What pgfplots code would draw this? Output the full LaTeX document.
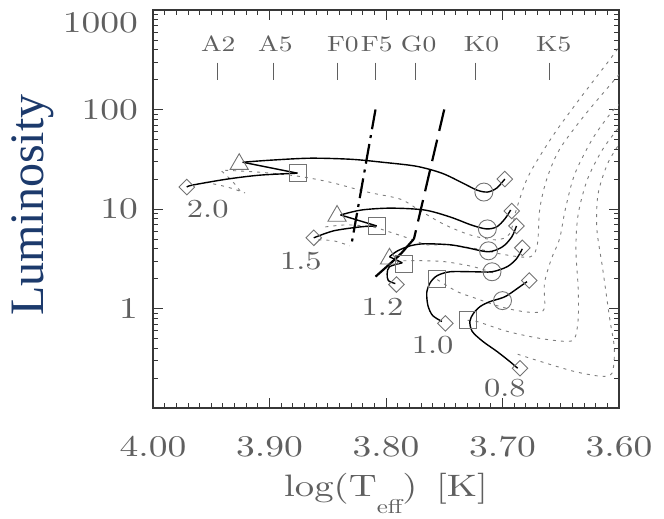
\documentclass[border=0pt]{standalone}
\usepackage{fontspec}
\usepackage{pgfplots}
\pgfplotsset{compat=1.18}
\newfontfamily\hfont{lmroman10-regular.otf}[FakeStretch=1.25]
\newfontfamily\lumfont{Liberation Serif}
\definecolor{navy}{RGB}{28,58,108}
\definecolor{labgray}{RGB}{95,95,95}
\definecolor{axisgray}{RGB}{55,55,55}
\definecolor{markgray}{RGB}{115,115,115}
\definecolor{dotgray}{RGB}{125,125,125}
\newcommand{\toplab}[1]{\raisebox{-23pt}[0pt][0pt]{#1}}
\begin{document}
\begin{tikzpicture}
\useasboundingbox (-153pt,-111pt) rectangle (511pt,408pt);
\begin{axis}[
  scale only axis, width=466pt, height=398pt,
  xmin=3.6, xmax=4.0, x dir=reverse,
  ymode=log, ymin=0.1, ymax=1000,
  xtick={4.0,3.9,3.8,3.7,3.6}, xticklabels={4.00,3.90,3.80,3.70,3.60},
  minor x tick num=9,
  ytick={0.1,1,10,100,1000}, yticklabels={,1,10,100,\toplab{1000}},
  minor ytick={0.2,0.3,0.4,0.5,0.6,0.7,0.8,0.9,2,3,4,5,6,7,8,9,20,30,40,50,60,70,80,90,200,300,400,500,600,700,800,900},
  tick align=inside,
  major tick length=10pt, minor tick length=5pt,
  tick style={axisgray, line width=0.8pt},
  axis line style={axisgray, line width=1.5pt},
  ticklabel style={font=\hfont\fontsize{30}{30}\selectfont, text=labgray},
  xticklabel style={inner sep=0pt, yshift=-28pt, anchor=north},
  yticklabel style={inner sep=0pt, xshift=-15pt, anchor=east},
  xlabel={log(T\raisebox{-0.55em}{\fontsize{20}{20}\selectfont eff})\hspace{0.6em}[K]},
  xlabel style={font=\hfont\fontsize{31}{31}\selectfont, text=labgray, at={(axis description cs:0.5,-0.215)}, anchor=center},
  ylabel={Luminosity},
  ylabel style={font=\lumfont\fontsize{48}{48}\selectfont, text=navy, at={(axis description cs:-0.2575,0.51)}, anchor=center},
  clip=true,
]
% dotted comparison tracks
\addplot[dotgray, line width=0.9pt, dash pattern=on 3pt off 5pt, smooth] coordinates {(3.955,18.6)(3.936,16.6)(3.921,14.5)};
\addplot[dotgray, line width=0.9pt, dash pattern=on 3pt off 5pt, smooth] coordinates {(3.941,24.0)(3.932,19.1)(3.925,15.1)};
\addplot[dotgray, line width=0.9pt, dash pattern=on 3pt off 5pt, smooth] coordinates {(3.938,24.5)(3.908,23.4)(3.876,21.4)(3.848,18.6)(3.816,14.8)(3.788,12.6)(3.773,10.0)(3.751,7.08)(3.728,5.50)(3.706,4.90)(3.694,5.62)(3.688,10.0)(3.679,20.0)(3.668,33.9)(3.653,63.1)(3.631,141)(3.608,316)(3.601,410)};
\addplot[dotgray, line width=0.9pt, dash pattern=on 3pt off 5pt, smooth] coordinates {(3.858,4.90)(3.845,4.79)(3.831,4.27)};
\addplot[dotgray, line width=0.9pt, dash pattern=on 3pt off 5pt, smooth] coordinates {(3.852,6.61)(3.835,6.92)(3.818,6.76)(3.808,6.46)(3.779,5.01)(3.765,4.37)(3.748,4.37)(3.722,3.98)(3.698,3.47)(3.676,3.31)(3.670,4.47)(3.668,10.0)(3.662,20.0)(3.651,39.8)(3.629,89.1)(3.600,224)};
\addplot[dotgray, line width=0.9pt, dash pattern=on 3pt off 5pt, smooth] coordinates {(3.785,3.02)(3.767,3.02)(3.749,2.95)(3.725,2.63)(3.706,2.24)};
\addplot[dotgray, line width=0.9pt, dash pattern=on 3pt off 5pt, smooth] coordinates {(3.756,1.95)(3.739,1.48)(3.725,1.29)(3.705,1.07)(3.688,0.955)(3.672,0.912)(3.664,1.00)(3.664,1.78)(3.658,3.16)(3.651,5.01)(3.646,10.0)(3.638,22.4)(3.623,50.1)(3.608,89.1)(3.600,112)};
\addplot[dotgray, line width=0.9pt, dash pattern=on 3pt off 5pt, smooth] coordinates {(3.730,0.759)(3.722,0.741)(3.696,0.589)(3.668,0.501)(3.646,0.468)(3.638,0.501)(3.635,0.794)(3.635,1.58)(3.637,3.98)(3.635,8.91)(3.627,20.0)(3.614,39.8)(3.600,66.1)};
\addplot[dotgray, line width=0.9pt, dash pattern=on 3pt off 5pt, smooth] coordinates {(3.687,0.347)(3.668,0.295)(3.639,0.234)(3.616,0.209)(3.606,0.224)(3.604,0.398)(3.608,0.794)(3.614,2.51)(3.619,6.31)(3.618,14.1)(3.610,28.2)(3.600,44.7)};
% instability strip style boundaries
\addplot[black, line width=2.2pt, dash pattern=on 20pt off 6pt on 3pt off 6pt] coordinates {(3.809,100)(3.830,4.17)};
\addplot[black, line width=2.2pt, dash pattern=on 22pt off 9pt] coordinates {(3.750,100)(3.773,7.08)(3.776,5.01)};
\addplot[black, line width=2.2pt, smooth] coordinates {(3.776,5.01)(3.782,4.17)(3.789,3.39)(3.809,2.09)};
% solid tracks: 2.0
\addplot[black, line width=1.4pt, smooth] coordinates {(3.971,16.6)(3.966,17.4)(3.936,20.0)(3.908,21.9)(3.876,22.9)};
\addplot[black, line width=1.4pt] coordinates {(3.876,22.9)(3.923,29.5)};
\addplot[black, line width=1.4pt, smooth] coordinates {(3.923,29.5)(3.900,30.9)(3.865,32.4)(3.830,31.6)(3.803,29.5)(3.774,26.9)(3.752,22.9)(3.734,18.2)(3.722,15.5)(3.713,14.8)(3.705,16.2)(3.698,20.0)};
% 1.5
\addplot[black, line width=1.4pt, smooth] coordinates {(3.862,5.13)(3.845,6.03)(3.822,6.61)(3.808,6.76)};
\addplot[black, line width=1.4pt] coordinates {(3.808,6.76)(3.839,8.71)};
\addplot[black, line width=1.4pt, smooth] coordinates {(3.839,8.71)(3.821,9.77)(3.796,10.2)(3.767,9.77)(3.745,8.32)(3.727,6.92)(3.714,6.31)(3.705,6.61)(3.698,7.94)(3.693,9.77)};
% 1.2
\addplot[black, line width=1.4pt, smooth] coordinates {(3.797,3.31)(3.790,3.80)(3.779,4.27)(3.767,4.47)(3.745,4.37)(3.730,4.07)(3.712,3.72)(3.700,4.17)(3.692,5.25)(3.688,6.76)};
\addplot[black, line width=1.4pt] coordinates {(3.797,3.31)(3.786,2.88)};
\addplot[black, line width=1.4pt, smooth] coordinates {(3.786,2.88)(3.797,2.63)(3.799,2.24)(3.798,1.91)(3.792,1.78)};
% 1.0
\addplot[black, line width=1.4pt, smooth] coordinates {(3.683,3.98)(3.688,3.16)(3.696,2.63)(3.709,2.34)(3.725,2.34)(3.745,2.34)(3.756,2.14)(3.762,1.82)(3.765,1.45)(3.764,1.07)(3.760,0.851)(3.752,0.741)};
% 0.8
\addplot[black, line width=1.4pt, smooth] coordinates {(3.679,1.86)(3.685,1.66)(3.696,1.35)(3.702,1.26)(3.711,1.17)(3.719,1.05)(3.725,0.891)(3.728,0.741)(3.726,0.589)(3.717,0.468)(3.705,0.372)(3.694,0.295)(3.687,0.251)};
% markers
\addplot[only marks, mark=square, mark size=5.5pt, markgray, mark options={rotate=45, line width=0.9pt}] coordinates {(3.971,16.6)(3.698,20.0)(3.862,5.13)(3.692,9.55)(3.791,1.74)(3.688,6.76)(3.683,4.07)(3.749,0.708)(3.677,1.91)(3.685,0.251)};
\addplot[only marks, mark=triangle, mark size=10.5pt, markgray, mark options={line width=0.9pt}] coordinates {(3.926,28.2)(3.842,8.51)(3.797,3.16)};
\addplot[only marks, mark=square, mark size=8.5pt, markgray, mark options={line width=0.9pt}] coordinates {(3.876,22.9)(3.808,6.76)(3.785,2.82)(3.756,2.00)(3.730,0.759)};
\addplot[only marks, mark=o, mark size=9pt, markgray, mark options={line width=0.9pt}] coordinates {(3.716,14.8)(3.713,6.31)(3.712,3.80)(3.709,2.34)(3.700,1.20)};
% spectral type ticks and labels
\addplot[only marks, mark=|, mark size=8.5pt, labgray, mark options={line width=0.8pt}] coordinates {(3.945,243)(3.897,243)(3.842,243)(3.809,243)(3.775,243)(3.723,243)(3.660,243)};
\addplot[draw=none, mark=none, nodes near coords, point meta=explicit symbolic,
  every node near coord/.append style={anchor=center, inner sep=0pt, font=\hfont\fontsize{22}{22}\selectfont, text=labgray}]
  coordinates {(3.944,457)[A2] (3.895,457)[A5] (3.837,457)[F0] (3.808,457)[F5] (3.772,457)[G0] (3.718,457)[K0] (3.656,457)[K5]};
% mass labels
\addplot[draw=none, mark=none, nodes near coords, point meta=explicit symbolic,
  every node near coord/.append style={anchor=center, inner sep=0pt, font=\hfont\fontsize{26}{26}\selectfont, text=labgray}]
  coordinates {(3.953,10.0)[2.0] (3.873,3.02)[1.5] (3.803,1.05)[1.2] (3.760,0.427)[1.0] (3.698,0.158)[0.8]};
\end{axis}
\end{tikzpicture}
\end{document}
